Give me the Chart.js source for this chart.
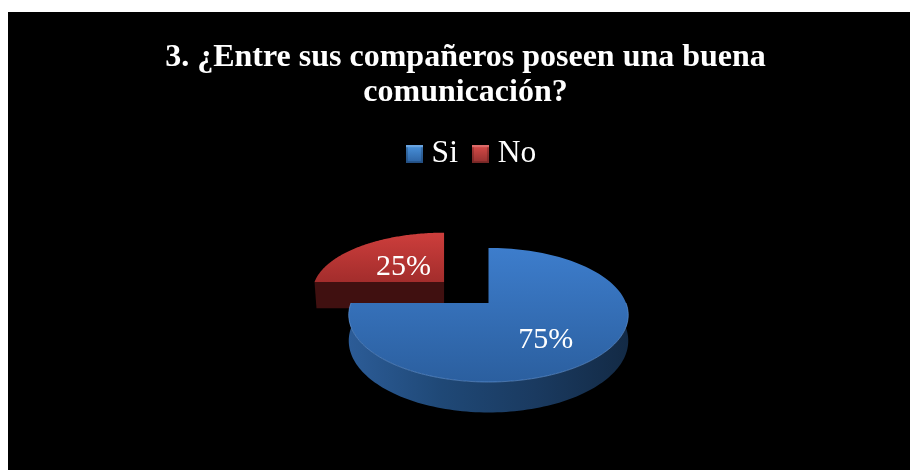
<!DOCTYPE html>
<html>
<head>
<meta charset="utf-8">
<title>Comunicación entre compañeros</title>
<script src="https://cdn.jsdelivr.net/npm/chart.js@4/dist/chart.umd.min.js"></script>
<style>
  html, body { margin: 0; background: #fff; overflow: hidden; }
  #pie { position: absolute; left: 8px; top: 12px; background: #000; }
</style>
</head>
<body>
<canvas id="pie" width="902" height="458"></canvas>
<script>
const titleLines = ["3. ¿Entre sus compañeros poseen una buena", "comunicación?"];
const categories = ["Si", "No"];
const percents = [75, 25];

const serif = "'Liberation Serif', 'Times New Roman', serif";

// look of each slice: top face gradient, side colour stops
const sliceLook = [
  { top: ["#3d7dcc", "#2b5f9f"], side: ["#2c5c97", "#1f4876", "#1a3a60", "#132a45"], marker: ["#4a93dd", "#2c62a2"] },
  { top: ["#cd3e3c", "#a32d2c"], side: ["#401010", "#401010"], marker: ["#d84c49", "#93302f"] }
];

// how the flat pie gets laid over on its side
const tilt = 0.472, persp = 0.179;
const depths = [25, 28];
const explode = [0, 0.485];
const pieShift = 23;
const legendShift = 9;
// label spots in pie units, relative to the slice tip
const labelSpots = [[0.38, 0.49], [-0.33, -0.31]];

function sliceProjector(arc, i) {
  const mid = (arc.startAngle + arc.endAngle) / 2;
  const du = Math.cos(mid) * explode[i], dv = Math.sin(mid) * explode[i];
  const rx = arc.outerRadius, ry = rx * tilt;
  const tipX = arc.x + pieShift + rx * du / (1 - persp * dv);
  return function (u, v, z) {
    const w = 1 - persp * (v + dv);
    return [tipX + rx * u / w, arc.y + (ry * (v + dv) + (z || 0)) / w];
  };
}

function tracePoints(ctx, pts) {
  ctx.beginPath();
  pts.forEach((p, n) => n ? ctx.lineTo(p[0], p[1]) : ctx.moveTo(p[0], p[1]));
  ctx.closePath();
}

function rimPoints(proj, a0, a1, z) {
  const pts = [], steps = 120;
  for (let s = 0; s <= steps; s++) {
    const a = a0 + (a1 - a0) * s / steps;
    pts.push(proj(Math.cos(a), Math.sin(a), z));
  }
  return pts;
}

function verticalFill(ctx, pts, stops) {
  const ys = pts.map(p => p[1]);
  const g = ctx.createLinearGradient(0, Math.min(...ys), 0, Math.max(...ys));
  stops.forEach((c, n) => g.addColorStop(n / (stops.length - 1), c));
  return g;
}

function drawSlice(ctx, arc, i) {
  const proj = sliceProjector(arc, i);
  const look = sliceLook[i];
  const a0 = arc.startAngle, a1 = arc.endAngle;
  const depth = depths[i];

  // wall along the front of the rim
  const from = Math.max(a0, 0), to = Math.min(a1, Math.PI);
  if (to > from) {
    const upper = rimPoints(proj, from, to, 0);
    const lower = rimPoints(proj, to, from, depth);
    const wall = upper.concat(lower);
    const xs = wall.map(p => p[0]);
    const g = ctx.createLinearGradient(Math.max(...xs), 0, Math.min(...xs), 0);
    look.side.slice().reverse().forEach((c, n, all) => g.addColorStop(n / (all.length - 1), c));
    ctx.fillStyle = g;
    tracePoints(ctx, wall);
    ctx.fill();
  }

  // cut face looking at the viewer (the exploded slice shows one)
  if (a0 >= Math.PI - 1e-6) {
    ctx.fillStyle = look.side[0];
    tracePoints(ctx, [proj(-1, 0, 0), proj(0, 0, 0), proj(0, 0, depth), proj(-0.985, 0, depth)]);
    ctx.fill();
  }

  // top face
  const top = [proj(0, 0, 0)].concat(rimPoints(proj, a0, a1, 0));
  ctx.fillStyle = verticalFill(ctx, top, look.top);
  tracePoints(ctx, top);
  ctx.fill();

  // soft highlight on the front edge
  if (to > from) {
    ctx.strokeStyle = "rgba(110,160,225,0.55)";
    ctx.lineWidth = 1;
    ctx.beginPath();
    rimPoints(proj, from, to, 0).forEach((p, n) => n ? ctx.lineTo(p[0], p[1]) : ctx.moveTo(p[0], p[1]));
    ctx.stroke();
  }
}

const tiltedPie = {
  id: "tiltedPie",
  afterLayout(chart) {
    chart.legend.left += legendShift;
    chart.legend.right += legendShift;
  },
  beforeDatasetDraw(chart, args) {
    const ctx = chart.ctx, arcs = args.meta.data;
    ctx.save();
    // back slice first so the big one sits over it
    [1, 0].forEach(i => drawSlice(ctx, arcs[i], i));
    ctx.restore();
    return false;
  },
  afterDatasetsDraw(chart) {
    const ctx = chart.ctx, arcs = chart.getDatasetMeta(0).data;
    ctx.save();
    ctx.fillStyle = "#fff";
    ctx.font = "30px " + serif;
    ctx.textAlign = "center";
    ctx.textBaseline = "middle";
    arcs.forEach((arc, i) => {
      const p = sliceProjector(arc, i)(labelSpots[i][0], labelSpots[i][1], 0);
      ctx.fillText(percents[i] + "%", p[0], p[1] + 2);
    });
    ctx.restore();
  }
};

function bevelMarker(colors) {
  const c = document.createElement("canvas");
  c.width = 17; c.height = 18;
  const g = c.getContext("2d");
  const grad = g.createLinearGradient(0, 0, 0, 18);
  grad.addColorStop(0, colors[0]);
  grad.addColorStop(1, colors[1]);
  g.fillStyle = grad;
  g.fillRect(0, 0, 17, 18);
  // thin bevel: light along the top, dark down the sides and bottom
  g.fillStyle = "rgba(255,255,255,0.18)";
  g.fillRect(0, 0, 17, 2);
  g.fillStyle = "rgba(0,0,0,0.2)";
  g.fillRect(0, 2, 2, 16);
  g.fillRect(15, 2, 2, 16);
  g.fillRect(2, 16, 13, 2);
  return c;
}

new Chart(document.getElementById("pie"), {
  type: "pie",
  data: {
    labels: categories,
    datasets: [{
      data: percents,
      backgroundColor: sliceLook.map(s => s.top[0]),
      borderWidth: 0
    }]
  },
  options: {
    responsive: false,
    animation: false,
    radius: 137.5,
    layout: { padding: { left: 13, bottom: 44 } },
    plugins: {
      tooltip: { enabled: false },
      title: {
        display: true,
        text: titleLines,
        color: "#fff",
        font: { family: serif, size: 32, weight: "bold", lineHeight: 1.1 },
        padding: { top: 28, bottom: 7 }
      },
      legend: {
        position: "top",
        labels: {
          color: "#fff",
          font: { family: serif, size: 31.5 },
          usePointStyle: true,
          pointStyleWidth: 3,
          padding: 21,
          generateLabels() {
            return categories.map((name, i) => ({
              text: name,
              fontColor: "#fff",
              pointStyle: bevelMarker(sliceLook[i].marker),
              lineWidth: 0,
              hidden: false,
              index: i
            }));
          }
        }
      }
    }
  },
  plugins: [tiltedPie]
});
</script>
</body>
</html>
